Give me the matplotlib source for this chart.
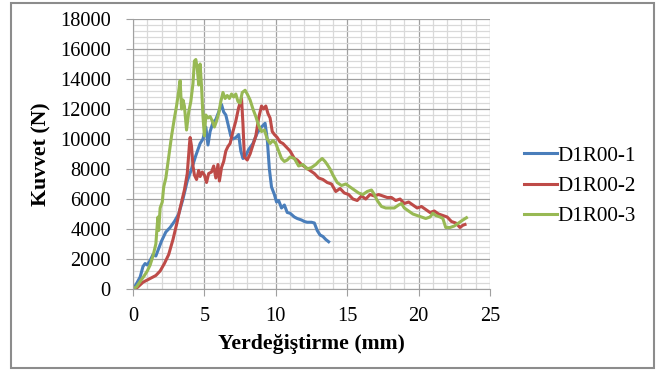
import numpy as np
import matplotlib.pyplot as plt
from matplotlib.patches import Rectangle
from matplotlib.ticker import MultipleLocator

plt.rcParams['font.family'] = ['Liberation Serif', 'DejaVu Serif']

# D1R00-1 (blue)
x1 = [0, 0.15, 0.3, 0.5, 0.7, 0.85, 1.0, 1.2, 1.4, 1.6, 1.8, 2.0, 2.3, 2.6, 2.9,
      3.2, 3.5, 3.8, 4.1, 4.4, 4.7, 4.9, 5.1, 5.25, 5.4, 5.6, 5.8, 6.0, 6.2, 6.35,
      6.5, 6.7, 6.85, 7.0, 7.2, 7.4, 7.55, 7.7, 7.9, 8.1, 8.4, 8.7, 9.0, 9.25, 9.4,
      9.55, 9.7, 9.9, 10.05, 10.2, 10.4, 10.6, 10.8, 11.0, 11.3, 11.5, 11.8, 12.0,
      12.2, 12.5, 12.7, 12.9, 13.1, 13.3, 13.5, 13.7]
y1 = [0, 200, 450, 800, 1500, 1700, 1600, 1900, 2300, 2200, 2700, 3200, 3800, 4100, 4500,
      5000, 6000, 7200, 8000, 8900, 9700, 10000, 10800, 9600, 10500, 11100, 11300, 11800, 12300, 11800,
      11600, 10800, 10200, 10000, 10100, 10300, 9200, 8700, 8900, 9300, 9700, 10400, 10800, 11050, 10000,
      8000, 6800, 6300, 5800, 5900, 5400, 5600, 5100, 5050, 4800, 4700, 4600, 4500,
      4450, 4450, 4400, 3900, 3600, 3500, 3300, 3150]

# D1R00-2 (red)
x2 = [0, 0.3, 0.7, 1.0, 1.3, 1.6, 1.9, 2.2, 2.5, 2.8, 3.1, 3.3, 3.6, 3.8, 3.95, 4.0,
      4.1, 4.2, 4.3, 4.45, 4.6, 4.7, 4.85, 5.0, 5.15, 5.3, 5.5, 5.65, 5.8, 5.95, 6.05,
      6.2, 6.35, 6.5, 6.65, 6.8, 7.0, 7.2, 7.4, 7.6, 7.7, 7.8, 8.0, 8.2, 8.4, 8.6, 8.8,
      9.0, 9.15, 9.3, 9.45, 9.6, 9.75, 9.9, 10.1, 10.3, 10.5, 10.8, 11.0, 11.3, 11.5,
      11.8, 12.1, 12.4, 12.7, 13.0, 13.3, 13.6, 13.9, 14.2, 14.5, 14.8, 15.1, 15.4,
      15.7, 16.0, 16.3, 16.6, 16.9, 17.2, 17.5, 17.8, 18.1, 18.4, 18.7, 19.0, 19.3,
      19.6, 19.9, 20.2, 20.5, 20.8, 21.1, 21.4, 21.7, 22.0, 22.3, 22.6, 22.9, 23.1, 23.25]
y2 = [0, 100, 450, 600, 750, 900, 1200, 1700, 2300, 3300, 4500, 5400, 6600, 7700, 9600, 10100,
      9500, 8200, 7600, 7300, 7900, 7500, 7800, 7600, 7100, 7700, 7800, 8200, 7400, 8300, 7200,
      8100, 8500, 9200, 9500, 9700, 10500, 11200, 12100, 12700, 11000, 8800, 8600, 9000, 9600, 10200, 11400,
      12200, 12000, 12200, 11700, 11400, 10500, 10300, 10100, 9800, 9700, 9400, 9200, 8700, 8600,
      8300, 8100, 7900, 7700, 7400, 7300, 7100, 7000, 6500, 6700, 6400, 6300, 6000,
      5900, 6200, 6000, 6300, 6200, 6300, 6200, 6100, 6100, 5900, 6000, 5700, 5800,
      5600, 5400, 5500, 5300, 5100, 5200, 5000, 4900, 4800, 4500, 4400, 4100, 4250, 4300]

# D1R00-3 (green)
x3 = [0, 0.25, 0.5, 0.8, 1.0, 1.2, 1.4, 1.6, 1.7, 1.75, 1.8, 1.9, 2.05, 2.15, 2.3, 2.5,
      2.7, 2.9, 3.05, 3.2, 3.3, 3.4, 3.5, 3.6, 3.75, 3.9, 4.05, 4.2, 4.3, 4.4, 4.5, 4.6,
      4.7, 4.8, 4.9, 5.0, 5.1, 5.25, 5.4, 5.55, 5.7, 5.85, 6.0, 6.15, 6.3, 6.45, 6.6,
      6.75, 6.9, 7.05, 7.2, 7.35, 7.5, 7.65, 7.85, 8.0, 8.2, 8.4, 8.6, 8.8, 9.0, 9.2,
      9.4, 9.6, 9.8, 10.0, 10.2, 10.4, 10.6, 10.8, 11.0, 11.3, 11.6, 11.9, 12.2, 12.5,
      12.8, 13.0, 13.25, 13.45, 13.6, 13.8, 14.0, 14.3, 14.6, 14.9, 15.2, 15.5, 15.8,
      16.1, 16.4, 16.7, 16.9, 17.1, 17.4, 17.7, 18.0, 18.3, 18.6, 18.8, 19.0, 19.3,
      19.6, 19.9, 20.2, 20.5, 20.8, 21.0, 21.2, 21.5, 21.7, 21.9, 22.2, 22.5, 22.8,
      23.1, 23.35]
y3 = [0, 150, 500, 900, 1200, 1600, 2200, 3000, 4300, 4800, 3900, 5400, 5800, 6800, 7400, 8800,
      10200, 11400, 12200, 13200, 13900, 12000, 12600, 12200, 10600, 11800, 12500, 13700, 15200, 15300, 14700, 13600,
      15000, 13500, 11500, 10200, 11600, 11400, 11500, 11200, 10800, 11200, 11700, 12500, 13100, 12700, 12900,
      12700, 13000, 12800, 13000, 12500, 12400, 13100, 13250, 13000, 12600, 12000, 11500, 10900, 10500, 10600,
      10000, 9700, 9900, 9700, 9200, 8700, 8500, 8600, 8800, 8700, 8200, 8300, 8000, 8100,
      8300, 8500, 8700, 8500, 8300, 8000, 7600, 7100, 6900, 7000, 6800, 6600, 6400,
      6300, 6500, 6600, 6300, 5900, 5500, 5400, 5400, 5400, 5600, 5700, 5400, 5200,
      5000, 4900, 4800, 4700, 4800, 5050, 4900, 4800, 4700, 4100, 4100, 4200, 4400,
      4600, 4750]

labels = ['D1R00-1', 'D1R00-2', 'D1R00-3']
colors = ['#4A7EBB', '#BE4B48', '#98B954']

fig = plt.figure(figsize=(6.6, 3.71), dpi=100)
ax = fig.add_axes([133/660, 1-289/371, 357/660, 270/371])

for xs, ys, lab, col in zip([x1, x2, x3], [y1, y2, y3], labels, colors):
    ax.plot(xs, ys, color=col, lw=2.2, label=lab)

ax.set_xlim(0, 25)
ax.set_ylim(0, 18000)
ax.xaxis.set_major_locator(MultipleLocator(5))
ax.xaxis.set_minor_locator(MultipleLocator(1))
ax.yaxis.set_major_locator(MultipleLocator(2000))
ax.yaxis.set_minor_locator(MultipleLocator(400))
ax.grid(which='major', color='#a0a0a0', lw=0.9)
ax.grid(which='minor', color='#d9d9d9', lw=0.9)
ax.set_axisbelow(True)
for s in ['top', 'right']:
    ax.spines[s].set_visible(False)
for s in ['left', 'bottom']:
    ax.spines[s].set_color('#a0a0a0')
ax.tick_params(which='major', length=5, color='#a0a0a0', labelsize=14.7)
ax.tick_params(axis='y', pad=11)
ax.tick_params(axis='x', pad=8)
ax.tick_params(which='minor', length=0)

ax.set_xlabel('Yerdeğiştirme (mm)', fontsize=15.7, fontweight='bold', labelpad=6)
ax.set_ylabel('Kuvvet (N)', fontsize=15.7, fontweight='bold', labelpad=6)

ax.legend(loc='center left', bbox_to_anchor=(391/357, 103/270), frameon=False,
          borderaxespad=0, borderpad=0, fontsize=15.2, handlelength=1.55,
          handletextpad=0.05, labelspacing=0.5)

fig.patches.append(Rectangle((11/660, 3/371), 643/660, 365/371, transform=fig.transFigure,
                             fill=False, edgecolor='#8c8c8c', lw=1.5))

fig.savefig('out.png', dpi=100)
